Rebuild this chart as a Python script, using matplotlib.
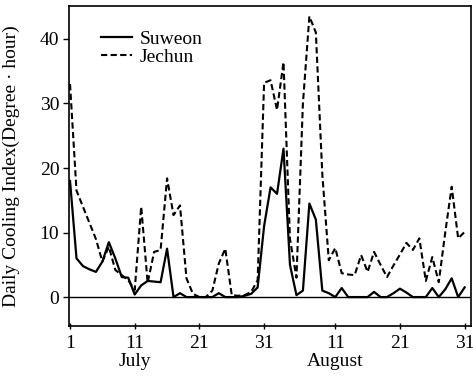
# Imports
import matplotlib
matplotlib.use('Agg')
import matplotlib.pyplot as plt
import matplotlib.transforms as mtransforms

# Days: 1-31 July, 32-62 August
days = list(range(1, 63))

suweon = [18.0, 6.0, 4.8, 4.3, 3.9, 5.5, 8.5, 6.0, 3.1, 3.0,
          0.4, 1.8, 2.5, 2.4, 2.3, 7.5, 0.0, 0.6, 0.0, 0.0,
          0.0, 0.0, 0.0, 0.6, 0.0, 0.0, 0.0, 0.2, 0.5, 1.5,
          11.0, 17.0, 16.0, 23.0, 5.0, 0.3, 1.0, 14.5, 12.0, 1.0,
          0.6, 0.0, 1.4, 0.0, 0.0, 0.0, 0.0, 0.8, 0.0, 0.0,
          0.6, 1.3, 0.7, 0.0, 0.0, 0.0, 1.4, 0.0, 1.2, 2.9,
          0.0, 1.5]

jechun = [33.0, 16.5, 14.0, 11.5, 9.0, 5.5, 7.8, 4.2, 3.4, 2.6,
          1.1, 14.0, 2.2, 7.0, 7.3, 18.4, 12.7, 14.2, 2.9, 0.5,
          0.0, 0.0, 1.0, 5.2, 7.5, 0.3, 0.2, 0.3, 0.8, 2.6,
          33.2, 33.6, 29.0, 36.4, 9.0, 3.0, 30.0, 43.5, 41.0, 19.0,
          5.7, 7.6, 3.7, 3.5, 3.4, 6.5, 3.9, 7.0, 5.0, 3.1,
          4.9, 6.6, 8.4, 7.3, 9.1, 2.5, 6.2, 2.3, 10.0, 17.1,
          9.1, 10.1]

tick_days = [1, 11, 21, 31, 42, 52, 62]
tick_labels = ['1', '11', '21', '31', '11', '21', '31']
month_names = ['July', 'August']
month_days = [11, 42]

plt.rcParams['font.family'] = ['Liberation Serif', 'DejaVu Serif']
plt.rcParams['font.size'] = 14

# Figure and axes
fig = plt.figure(figsize=(4.73, 3.77), dpi=100)
ax = fig.add_axes([0.146, 0.135, 0.850, 0.849])

ax.plot(days, suweon, color='black', lw=1.6, label='Suweon')
ax.plot(days, jechun, color='black', lw=1.5, linestyle=(0, (3.0, 1.6)), label='Jechun')
ax.axhline(0, color='black', lw=1.0)

ax.set_xlim(0.85, 63.0)
ax.set_ylim(-4.5, 45.1)
ax.set_yticks([0, 10, 20, 30, 40])
ax.set_xticks(tick_days)
ax.set_xticklabels(tick_labels)
ax.tick_params(axis='y', direction='out', length=4, width=1, pad=3)
ax.tick_params(axis='x', direction='inout', length=5, width=1, pad=4)

for spine in ax.spines.values():
    spine.set_linewidth(1.2)

ax.set_ylabel('Daily Cooling Index(Degree \u00b7 hour)')
ax.yaxis.set_label_coords(-0.122, 0.5)

# Month names under the axis
trans = mtransforms.blended_transform_factory(ax.transData, ax.transAxes)
for name, d in zip(month_names, month_days):
    ax.text(d, -0.083, name, transform=trans, ha='center', va='top')

ax.legend(loc='upper left', bbox_to_anchor=(0.05, 0.96), frameon=False,
          handlelength=1.6, handletextpad=0.4, labelspacing=0.0,
          borderaxespad=0.2)

fig.savefig('out.png', dpi=100)
